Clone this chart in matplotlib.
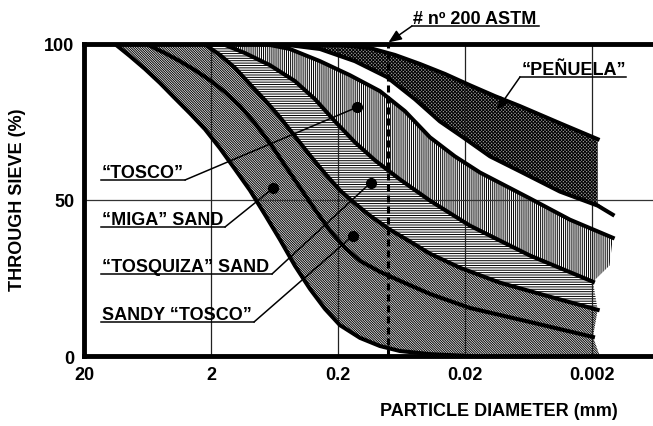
import matplotlib
matplotlib.use('Agg')
import matplotlib.pyplot as plt
from matplotlib.lines import Line2D
from matplotlib.ticker import NullLocator

plt.rcParams['font.family'] = ['Liberation Sans', 'DejaVu Sans']
plt.rcParams['font.weight'] = 'bold'
plt.rcParams['font.size'] = 13
plt.rcParams['hatch.linewidth'] = 0.7

# grading curves: particle diameter (mm), % through sieve
# curves run coarse -> fine
a_d = [11.4, 8.68, 6.62, 5.04, 3.84, 2.93, 2.23, 1.70, 1.29, 0.986, 0.751, 0.572, 0.436, 0.332, 0.253,
       0.193, 0.134, 0.0934, 0.065, 0.0377, 0.0183]
a_p = [100, 96.1, 92.0, 87.5, 82.6, 77.8, 72.7, 66.6, 59.8, 53.1, 45.3, 37.3, 28.9, 21.5, 15.1,
       9.9, 5.8, 3.2, 1.6, 0.6, 0]

b_d = [6.04, 4.61, 3.51, 2.67, 2.04, 1.55, 1.18, 0.900, 0.686, 0.523, 0.398, 0.303, 0.231, 0.176,
       0.134, 0.0934, 0.065, 0.0377, 0.0183, 0.00615, 0.00196]
b_p = [99.4, 97.1, 94.5, 91.6, 88.4, 84.6, 80.1, 74.6, 68.2, 61.1, 54.0, 46.9, 40.2, 34.7,
       30.5, 27.0, 24.1, 19.9, 15.4, 10.9, 6.1]

c_d = [2.15, 1.70, 1.29, 0.986, 0.751, 0.572, 0.436, 0.332, 0.253, 0.193, 0.147, 0.112, 0.0779,
       0.0542, 0.0377, 0.0219, 0.0106, 0.00428, 0.0018]
c_p = [99.4, 96.5, 92.3, 87.1, 82.0, 76.5, 70.4, 64.3, 58.5, 53.1, 48.9, 45.0, 40.5,
       36.7, 32.8, 28.3, 23.5, 19.0, 14.8]

d_d = [1.55, 1.08, 0.686, 0.436, 0.303, 0.211, 0.147, 0.102, 0.065, 0.0377, 0.0183, 0.00615, 0.00196]
d_p = [99.7, 97.1, 93.2, 88.1, 82.3, 75.2, 68.5, 62.7, 56.6, 49.8, 41.8, 32.2, 23.8]

e_d = [0.751, 0.478, 0.277, 0.161, 0.0934, 0.0594, 0.0377, 0.024, 0.0152, 0.00615, 0.00298, 0.00137]
e_p = [100, 98.4, 94.5, 90.0, 84.9, 78.5, 70.1, 64.0, 58.8, 50.5, 43.7, 37.9]

pen_up_d = [0.398, 0.193, 0.112, 0.0712, 0.0452, 0.0287, 0.0183, 0.0116, 0.00738, 0.00357, 0.0018]
pen_up_p = [100, 99.7, 98.7, 96.5, 93.6, 90.4, 86.8, 83.3, 80.1, 74.6, 69.5]
pen_lo_d = [0.572, 0.277, 0.147, 0.0822, 0.0495, 0.0315, 0.0207, 0.0127, 0.00738, 0.00357, 0.0018, 0.00137]
pen_lo_p = [100, 98.4, 94.5, 89.4, 82.3, 75.2, 70.1, 64.0, 59.2, 52.7, 48.2, 45.3]

# label anchor points (mm, %)
labels = ['\u201cTOSCO\u201d', '\u201cMIGA\u201d SAND', '\u201cTOSQUIZA\u201d SAND', 'SANDY \u201cTOSCO\u201d']
dot_d = [0.142, 0.65, 0.11, 0.152]
dot_p = [79.7, 53.7, 55.6, 38.6]
penuela_tip = (0.0112, 78.8)
sieve_200 = 0.08

x_ticks = [20, 2, 0.2, 0.02, 0.002]
x_tick_labels = ['20', '2', '0.2', '0.02', '0.002']
y_ticks = [0, 50, 100]

W, H = 653, 427


def fig_xy(px, py):
    return px / W, 1 - py / H


fig = plt.figure(figsize=(W / 100, H / 100), dpi=100)
ax = fig.add_axes([84 / W, 1 - 357 / H, 1 - 84 / W, 312 / H])
ax.set_xscale('log')
ax.set_xlim(20, 0.00066)
ax.set_ylim(0, 100)

# bands
diag = '\\' * 14
ax.fill(a_d + [0.00173] + b_d[::-1], a_p + [0] + b_p[::-1], facecolor='white', edgecolor='black', hatch=diag, lw=0, zorder=1)
ax.fill(b_d + c_d[::-1], b_p + c_p[::-1], facecolor='white', edgecolor='black', hatch=diag, lw=0, zorder=1)
ax.fill(c_d + d_d[::-1], c_p + d_p[::-1], facecolor='white', edgecolor='black', hatch='-' * 7, lw=0, zorder=1)
ax.fill(d_d + [0.00145] + e_d[::-1], d_p + [29] + e_p[::-1], facecolor='white', edgecolor='black', hatch='|' * 8, lw=0, zorder=1)
ax.fill(pen_lo_d + [0.0018] + pen_up_d[::-1], pen_lo_p + [49] + pen_up_p[::-1], facecolor='#999999', edgecolor='black', hatch='x' * 10, lw=0, zorder=1)

# grid
ax.axhline(50, color='#333333', lw=0.9, zorder=2)
for xv in x_ticks[1:]:
    ax.axvline(xv, color='#222222', lw=0.9, zorder=2)

for cd, cp in [(a_d, a_p), (b_d, b_p), (c_d, c_p), (d_d, d_p), (e_d, e_p), (pen_up_d, pen_up_p), (pen_lo_d, pen_lo_p)]:
    ax.plot(cd, cp, color='black', lw=2.9, solid_joinstyle='round', zorder=4)

ax.axvline(sieve_200, color='black', lw=2.2, ls=(0, (2.3, 1.3)), zorder=5)

for s in ['left', 'bottom', 'top']:
    ax.spines[s].set_linewidth(3.5)
ax.spines['right'].set_visible(False)

ax.set_xticks(x_ticks, labels=x_tick_labels)
ax.xaxis.set_minor_locator(NullLocator())
ax.set_yticks(y_ticks)
ax.tick_params(length=0)
ax.tick_params(axis='x', pad=7)
ax.tick_params(axis='y', pad=7)

# labels with underline and leader
lab_pos = [(102, 178, 185), (102, 225, 225), (102, 272, 272), (102, 320, 254)]
for txt, dx, dy, (lx, ly, rx) in zip(labels, dot_d, dot_p, lab_pos):
    fig.text(*fig_xy(lx, ly), txt, ha='left', va='baseline')
    fig.add_artist(Line2D([(lx - 1) / W, rx / W], [1 - (ly + 3) / H] * 2, color='black', lw=1.1))
    ax.annotate('', xy=(dx, dy), xytext=fig_xy(rx, ly + 3), textcoords='figure fraction',
                arrowprops=dict(arrowstyle='-', lw=1.1, shrinkA=0, shrinkB=0), annotation_clip=False)
ax.plot(dot_d, dot_p, 'o', ms=7, color='black', zorder=6)

fig.text(*fig_xy(522, 75), '\u201cPE\u00d1UELA\u201d', ha='left', va='baseline')
fig.add_artist(Line2D([520 / W, 626 / W], [1 - 78 / H] * 2, color='black', lw=1.1))
ax.annotate('', xy=penuela_tip, xytext=fig_xy(520, 78), textcoords='figure fraction',
            arrowprops=dict(arrowstyle='-|>,head_length=0.6,head_width=0.25', lw=1.1, color='black', shrinkA=0, shrinkB=0),
            annotation_clip=False, zorder=6)

fig.text(*fig_xy(413, 24), '# n\u00ba 200 ASTM', ha='left', va='baseline')
fig.add_artist(Line2D([412 / W, 539 / W], [1 - 27 / H] * 2, color='black', lw=1.1))
ax.annotate('', xy=(sieve_200, 100.5), xytext=fig_xy(412, 27), textcoords='figure fraction',
            arrowprops=dict(arrowstyle='-|>,head_length=0.6,head_width=0.25', lw=1.1, color='black', shrinkA=0, shrinkB=0),
            annotation_clip=False, zorder=6)

fig.text(*fig_xy(18, 200), 'THROUGH SIEVE (%)', rotation=90, ha='center', va='center')
fig.text(*fig_xy(499, 412), 'PARTICLE DIAMETER (mm)', ha='center', va='center')

fig.savefig('out.png', dpi=100)
